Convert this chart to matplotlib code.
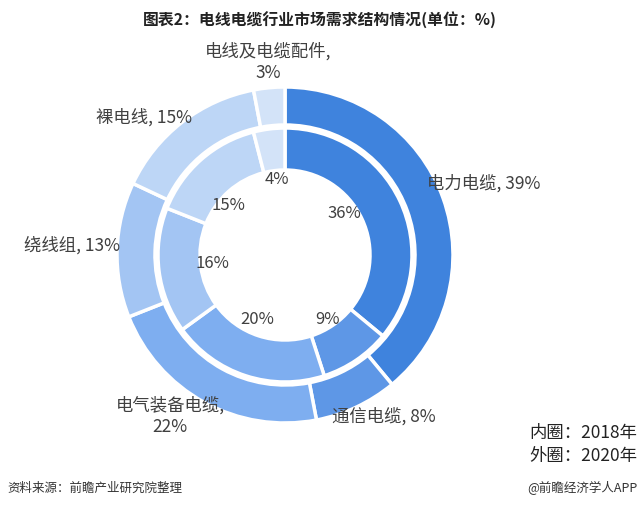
import numpy as np
import matplotlib
matplotlib.use('Agg')
import matplotlib.pyplot as plt

plt.rcParams['font.family'] = ['Noto Sans CJK SC', 'DejaVu Sans']

categories = ['电力电缆', '通信电缆', '电气装备电缆', '绕线组', '裸电线', '电线及电缆配件']
share_2018 = [36, 9, 20, 16, 15, 4]   # inner ring
share_2020 = [39, 8, 22, 13, 15, 3]   # outer ring
colors = ['#3f83dd', '#5e97e6', '#7eaef0', '#a3c5f3', '#bdd6f6', '#d3e3f8']

W, H = 640, 508
fig = plt.figure(figsize=(W / 100, H / 100), dpi=100)
ax = fig.add_axes([0, 0, 1, 1])

cx, cy = 285, H - 255
wp = dict(edgecolor='white', linewidth=2.5)
ax.pie(share_2020, radius=168, center=(cx, cy), colors=colors, startangle=90,
       counterclock=False, wedgeprops=dict(width=38, **wp))
ax.pie(share_2018, radius=127, center=(cx, cy), colors=colors, startangle=90,
       counterclock=False, wedgeprops=dict(width=42, **wp))
ax.set_xlim(0, W)
ax.set_ylim(0, H)
ax.set_aspect('equal')
ax.axis('off')

def px(x, y, s, color='#404040', **kw):
    fig.text(x / W, 1 - y / H, s, color=color, ha='center', va='center', **kw)

# outer ring labels
outer_pos = [(484, 183), (384, 416), (170, 416), (72, 245), (144, 117), (268, 62)]
for (x, y), name, v in zip(outer_pos, categories, share_2020):
    sep = ',\n' if len(name) > 5 else ', '
    px(x, y, f'{name}{sep}{v}%', fontsize=12.5, linespacing=1.25)

# inner ring labels
inner_pos = [(344, 214), (328, 320), (257, 320), (212, 264), (228, 205), (277, 179)]
for (x, y), v in zip(inner_pos, share_2018):
    px(x, y, f'{v}%', fontsize=12)

px(320, 20, '图表2：电线电缆行业市场需求结构情况(单位：%)', fontsize=11.4, fontweight='bold', color='#222222')
fig.text(637 / W, 1 - 433 / H, '内圈：2018年', ha='right', va='center', fontsize=12.5, color='#222222')
fig.text(637 / W, 1 - 456 / H, '外圈：2020年', ha='right', va='center', fontsize=12.5, color='#222222')
fig.text(7 / W, 1 - 488 / H, '资料来源：前瞻产业研究院整理', ha='left', va='center', fontsize=9, color='#333333')
fig.text(637 / W, 1 - 488 / H, '@前瞻经济学人APP', ha='right', va='center', fontsize=9, color='#333333')

fig.savefig('out.png', dpi=100, facecolor='white')
